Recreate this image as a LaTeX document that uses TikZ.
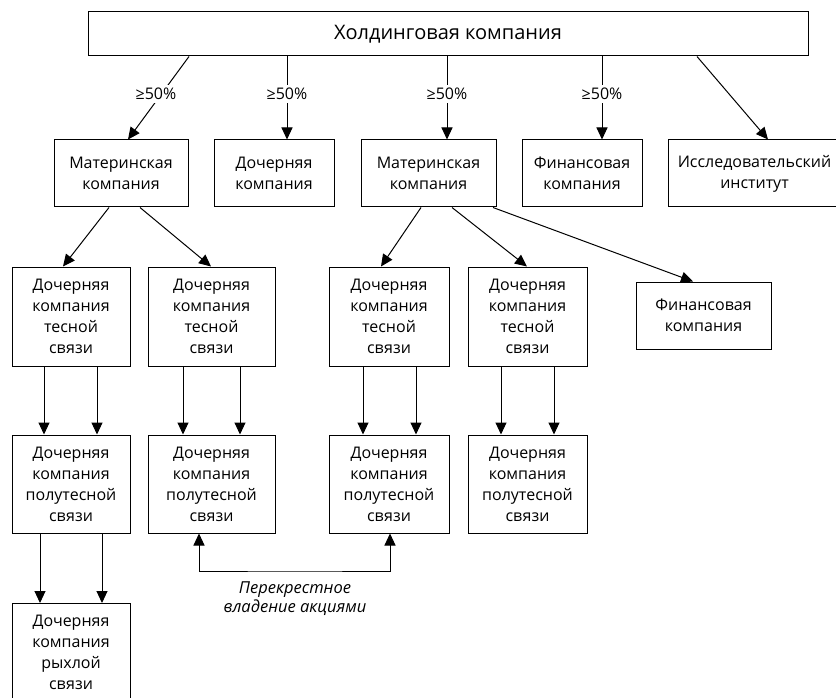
\documentclass[tikz,border=0pt]{standalone}
\usepackage{fontspec}
\setmainfont{Open Sans}
\usetikzlibrary{arrows.meta,calc}
\begin{document}
\begin{tikzpicture}[x=1pt,y=-1pt,
  box/.style={draw,line width=1pt,rectangle,inner sep=0pt,align=center,
    font=\fontsize{16}{21}\selectfont},
  arr/.style={line width=1pt,-{Triangle[length=12pt,width=11pt]}},
  lbl/.style={fill=white,inner sep=3pt,font=\fontsize{16}{18}\selectfont},
  ln/.style={line width=1pt}]
\clip (0,0) rectangle (836,698);
\fill[white] (0,0) rectangle (836,698);
% top
\node[box,minimum width=720pt,minimum height=44pt,font=\fontsize{20}{24}\selectfont] (top) at (448,34) {Холдинговая компания};
% row 1
\node[box,minimum width=134pt,minimum height=67pt] (mat1) at (121,173.5) {Материнская\\компания};
\node[box,minimum width=120pt,minimum height=67pt] (doch) at (274,173.5) {Дочерняя\\компания};
\node[box,minimum width=135pt,minimum height=67pt] (mat2) at (428.5,173.5) {Материнская\\компания};
\node[box,minimum width=120pt,minimum height=67pt] (fin1) at (582,173.5) {Финансовая\\компания};
\node[box,minimum width=173pt,minimum height=67pt] (issl) at (754.5,173.5) {Исследовательский\\институт};
% row 2
\node[box,minimum width=118pt,minimum height=99pt] (a1) at (71,316.5) {Дочерняя\\компания\\тесной\\связи};
\node[box,minimum width=127pt,minimum height=99pt] (a2) at (211.5,316.5) {Дочерняя\\компания\\тесной\\связи};
\node[box,minimum width=120pt,minimum height=99pt] (a3) at (389,316.5) {Дочерняя\\компания\\тесной\\связи};
\node[box,minimum width=119pt,minimum height=99pt] (a4) at (527.5,316.5) {Дочерняя\\компания\\тесной\\связи};
\node[box,minimum width=135pt,minimum height=67pt] (fin2) at (703.5,315.5) {Финансовая\\компания};
% row 3
\node[box,minimum width=118pt,minimum height=98pt] (b1) at (71,484) {Дочерняя\\компания\\полутесной\\связи};
\node[box,minimum width=127pt,minimum height=98pt] (b2) at (211.5,484) {Дочерняя\\компания\\полутесной\\связи};
\node[box,minimum width=120pt,minimum height=98pt] (b3) at (389,484) {Дочерняя\\компания\\полутесной\\связи};
\node[box,minimum width=119pt,minimum height=98pt] (b4) at (527.5,484) {Дочерняя\\компания\\полутесной\\связи};
% row 4 (cut off by the picture's lower edge)
\node[box,minimum width=118pt,minimum height=98pt,anchor=north] (c1) at (71,603) {Дочерняя\\компания\\рыхлой\\связи};
% top arrows
\coordinate (u1) at (189,0); \coordinate (d1) at (128,0);
\coordinate (x2) at (287,0); \coordinate (x3) at (447,0); \coordinate (x4) at (602,0);
\coordinate (u5) at (697,0); \coordinate (d5) at (768,0);
\draw[arr] (top.south -| u1) -- (mat1.north -| d1);
\draw[arr] (top.south -| x2) -- (doch.north -| x2);
\draw[arr] (top.south -| x3) -- (mat2.north -| x3);
\draw[arr] (top.south -| x4) -- (fin1.north -| x4);
\draw[arr] (top.south -| u5) -- (issl.north -| d5);
\node[lbl] (l1) at (156,94) {≥50\%};
\node[lbl] (l2) at (287,94) {≥50\%};
\node[lbl] (l3) at (447,94) {≥50\%};
\node[lbl] (l4) at (602,94) {≥50\%};
% row1 -> row2
\draw[arr] ([xshift=-12pt]mat1.south) -- ([xshift=-8pt]a1.north);
\draw[arr] ([xshift=19pt]mat1.south) -- ([xshift=-0.5pt]a2.north);
\draw[arr] ([xshift=-7.5pt]mat2.south) -- ([xshift=-8pt]a3.north);
\draw[arr] ([xshift=23.5pt]mat2.south) -- ([xshift=-0.5pt]a4.north);
\draw[arr] ([xshift=64.5pt]mat2.south) -- ([xshift=-10.5pt]fin2.north);
% row2 -> row3
\foreach \s/\t/\dx in {a1/b1/-27, a1/b1/26, a2/b2/-28.5, a2/b2/28.5, a3/b3/-26, a3/b3/27, a4/b4/-26.5, a4/b4/26.5}
  \draw[arr] ([xshift=\dx pt]\s.south) -- ([xshift=\dx pt]\t.north);
% row3 -> row4
\draw[arr] ([xshift=-31pt]b1.south) -- ([xshift=-31pt]c1.north);
\draw[arr] ([xshift=31pt]b1.south) -- ([xshift=31pt]c1.north);
% cross ownership
\coordinate (cr) at (295,571);
\draw[line width=1pt,{Triangle[length=12pt,width=11pt]}-{Triangle[length=12pt,width=11pt]}]
  ([xshift=-12.5pt]b2.south) |- (cr) -| ([xshift=1pt]b3.south);
\node[align=center,font=\fontsize{16.5}{19}\selectfont\itshape] (cl) at (295,599) {Перекрестное\\владение акциями};
\end{tikzpicture}
\end{document}
